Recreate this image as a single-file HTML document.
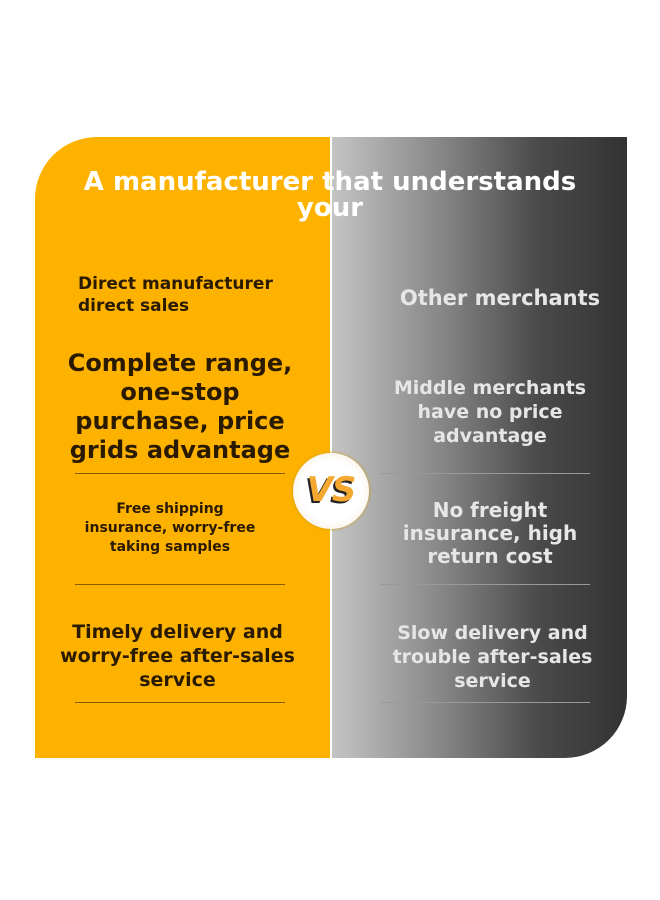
<!DOCTYPE html>
<html><head><style>
body{margin:0;width:660px;height:900px;background:#fff;position:relative;overflow:hidden;font-family:"DejaVu Sans","Liberation Sans",sans-serif;font-weight:bold}
.o{position:absolute;left:35px;top:137px;width:295px;height:621px;background:#fdb200;border-top-left-radius:62px}
.g{position:absolute;left:332px;top:137px;width:295px;height:621px;background:linear-gradient(90deg,#c4c4c4 0%,#8a8a8a 35%,#4a4a4a 70%,#333 100%);border-bottom-right-radius:62px}
.t{position:absolute;text-align:center;line-height:1.05}
.l{color:#2a1a00}
.r{color:#e6e6e6}
.ln{position:absolute;height:1px}
</style></head><body>
<div class="o"></div><div class="g"></div>
<div class="t" style="left:30px;width:600px;top:169px;font-size:26px;color:#fff;line-height:26px">A manufacturer that understands<br>your</div>
<div class="t l" style="left:78px;width:240px;top:273px;font-size:17px;text-align:left;line-height:22px">Direct manufacturer<br>direct sales</div>
<div class="t l" style="left:35px;width:290px;top:349px;font-size:24px;line-height:29px">Complete range,<br>one-stop<br>purchase, price<br>grids advantage</div>
<div class="ln" style="left:75px;width:210px;top:473px;background:#8a5a00"></div>
<div class="t l" style="left:60px;width:220px;top:500px;font-size:14px;line-height:19px">Free shipping<br>insurance, worry-free<br>taking samples</div>
<div class="ln" style="left:75px;width:210px;top:584px;background:#8a5a00"></div>
<div class="t l" style="left:40px;width:275px;top:620px;font-size:19px;line-height:24px">Timely delivery and<br>worry-free after-sales<br>service</div>
<div class="ln" style="left:75px;width:210px;top:702px;background:#8a5a00"></div>
<div class="t r" style="left:365px;width:270px;top:287px;font-size:21px">Other merchants</div>
<div class="t r" style="left:365px;width:250px;top:376px;font-size:19px;line-height:24px">Middle merchants<br>have no price<br>advantage</div>
<div class="ln" style="left:380px;width:210px;top:473px;background:#999"></div>
<div class="t r" style="left:365px;width:250px;top:499px;font-size:20px;line-height:23px">No freight<br>insurance, high<br>return cost</div>
<div class="ln" style="left:380px;width:210px;top:584px;background:#999"></div>
<div class="t r" style="left:360px;width:265px;top:621px;font-size:19px;line-height:24px">Slow delivery and<br>trouble after-sales<br>service</div>
<div class="ln" style="left:380px;width:210px;top:702px;background:#999"></div>
<div style="position:absolute;left:293px;top:453px;width:76px;height:76px;border-radius:50%;background:radial-gradient(circle,#fff 55%,#f3e6d0 100%);box-shadow:0 0 3px #c90"></div>
<div style="position:absolute;left:293px;top:470px;width:76px;text-align:center;font-size:34px;font-style:italic;color:#f4a830;text-shadow:-2px 2px 0 #222;letter-spacing:-1px">VS</div>
</body></html>
